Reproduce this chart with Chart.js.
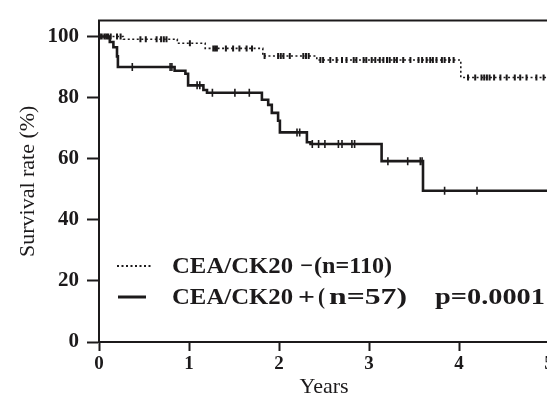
<!DOCTYPE html>
<html lang="en">
<head>
  <meta charset="UTF-8" />
  <title>CEA/CK20 survival</title>
  <script src="https://cdn.jsdelivr.net/npm/chart.js"></script>
  <style>
    html, body { margin: 0; padding: 0; background: #fff; overflow: hidden; }
    canvas { display: block; }
  </style>
</head>
<body>
  <canvas id="kmChart" width="565" height="397"></canvas>

  <script>
    // CEA/CK20 − (n=110): step times (years) and survival (%)
    const negTimes = [0, 0.27, 0.87, 1.18, 1.82, 2.42, 4.02, 5];
    const negSurv  = [100, 99.1, 97.8, 96.1, 93.6, 92.3, 86.6, 86.6];
    const negCensor = [0.01, 0.03, 0.06, 0.08, 0.10, 0.13, 0.20, 0.24, 0.46, 0.52, 0.64, 0.69, 0.72, 0.75,
      1.01, 1.27, 1.29, 1.31, 1.41, 1.49, 1.56, 1.64, 1.70, 1.84, 1.99, 2.02, 2.05, 2.12, 2.27, 2.30, 2.33,
      2.46, 2.49, 2.57, 2.64, 2.70, 2.75, 2.83, 2.86, 2.94, 2.97, 3.03, 3.07, 3.12, 3.16, 3.20, 3.23, 3.28,
      3.31, 3.38, 3.46, 3.55, 3.59, 3.64, 3.68, 3.71, 3.75, 3.81, 3.84, 3.89, 3.94,
      4.10, 4.18, 4.25, 4.28, 4.31, 4.34, 4.39, 4.46, 4.53, 4.62, 4.68, 4.75, 4.86, 4.94];

    // CEA/CK20 + (n=57)
    const posTimes = [0, 0.12, 0.16, 0.20, 0.21, 0.84, 0.96, 0.99, 1.16, 1.20, 1.81, 1.88, 1.92, 1.99, 2.01, 2.31, 2.35, 3.14, 3.60, 5];
    const posSurv  = [100, 98.2, 96.5, 93.5, 90.0, 88.8, 87.8, 84.0, 82.5, 81.6, 79.3, 77.6, 75.0, 72.4, 68.6, 65.4, 64.8, 59.2, 49.5, 49.5];
    const posCensor = [0.37, 0.79, 0.81, 1.09, 1.12, 1.26, 1.51, 1.67, 2.20, 2.23, 2.37, 2.44, 2.51, 2.66, 2.70,
      2.81, 2.84, 3.21, 3.43, 3.57, 3.59, 3.84, 4.20];

    const xTicks = [0, 1, 2, 3, 4, 5];
    const yTicks = [0, 20, 40, 60, 80, 100];
    const pText = 'p=0.0001';

    const ink = '#1c1a1b';
    const serif = '"Liberation Serif", "Times New Roman", serif';

    function survAt(times, surv, t) {
      let v = surv[0];
      for (let i = 0; i < times.length; i++) {
        if (times[i] <= t) v = surv[i];
      }
      return v;
    }

    const stepData = (times, surv) => times.map((t, i) => ({ x: t, y: surv[i] }));
    const censorData = (cs, times, surv) => cs.map(t => ({ x: t, y: survAt(times, surv, t) }));

    // text squeezed/stretched to span x0..x1
    function fitText(ctx, str, x0, x1, y) {
      const w = ctx.measureText(str).width;
      ctx.save();
      ctx.translate(x0, y);
      ctx.scale((x1 - x0) / w, 1);
      ctx.fillText(str, 0, 0);
      ctx.restore();
    }

    const framePlugin = {
      id: 'frameLegend',
      afterDraw(chart) {
        const { ctx, chartArea } = chart;
        ctx.save();
        // top border
        ctx.strokeStyle = ink;
        ctx.lineWidth = 2;
        ctx.beginPath();
        ctx.moveTo(chartArea.left - 1, chartArea.top);
        ctx.lineTo(chartArea.right, chartArea.top);
        ctx.stroke();

        // legend samples
        ctx.lineWidth = 2;
        ctx.setLineDash([2, 2.5]);
        ctx.beginPath();
        ctx.moveTo(117, 266);
        ctx.lineTo(151, 266);
        ctx.stroke();
        ctx.setLineDash([]);
        ctx.lineWidth = 3;
        ctx.beginPath();
        ctx.moveTo(118, 297);
        ctx.lineTo(146, 297);
        ctx.stroke();

        ctx.fillStyle = ink;
        ctx.textBaseline = 'middle';
        ctx.font = 'bold 23px ' + serif;
        fitText(ctx, 'CEA/CK20', 172, 293, 267);
        fitText(ctx, '−', 300, 313, 267);
        fitText(ctx, '(n=110)', 314, 392, 267);
        fitText(ctx, 'CEA/CK20', 172, 293, 298);
        fitText(ctx, '+', 298, 315, 298);
        fitText(ctx, '(', 318, 325, 298);
        fitText(ctx, 'n=57)', 329, 407, 298);
        fitText(ctx, pText, 435, 545, 298);
        ctx.restore();
      }
    };

    const ctx = document.getElementById('kmChart').getContext('2d');
    new Chart(ctx, {
      type: 'scatter',
      data: {
        datasets: [
          {
            label: 'CEA/CK20 −(n=110)',
            type: 'line',
            data: stepData(negTimes, negSurv),
            stepped: true,
            borderColor: ink,
            borderWidth: 1.6,
            borderDash: [2, 2.5],
            pointRadius: 0,
            fill: false
          },
          {
            label: 'CEA/CK20 +(n=57)',
            type: 'line',
            data: stepData(posTimes, posSurv),
            stepped: true,
            borderColor: ink,
            borderWidth: 2.6,
            pointRadius: 0,
            fill: false
          },
          {
            label: 'censored −',
            data: censorData(negCensor, negTimes, negSurv),
            showLine: false,
            pointStyle: 'line',
            rotation: 90,
            pointRadius: 3,
            borderColor: ink,
            borderWidth: 2
          },
          {
            label: 'censored +',
            data: censorData(posCensor, posTimes, posSurv),
            showLine: false,
            pointStyle: 'line',
            rotation: 90,
            pointRadius: 4,
            borderColor: ink,
            borderWidth: 1.6
          }
        ]
      },
      options: {
        responsive: false,
        animation: false,
        layout: { padding: { top: 17, right: 16, left: 0, bottom: 0 } },
        plugins: {
          legend: { display: false },
          tooltip: { enabled: false }
        },
        scales: {
          x: {
            type: 'linear',
            min: 0,
            max: 5,
            afterFit: s => { s.height = 55; },
            afterBuildTicks: s => { s.ticks = xTicks.map(v => ({ value: v })); },
            ticks: {
              color: ink,
              padding: 2,
              font: { family: serif, weight: 'bold', size: 19 }
            },
            grid: { drawOnChartArea: false, tickLength: 9, tickWidth: 2, tickColor: ink },
            border: { color: ink, width: 2 },
            title: {
              display: true,
              text: 'Years',
              color: ink,
              padding: { top: 0, bottom: -3 },
              font: { family: serif, size: 22 }
            }
          },
          y: {
            min: 0,
            max: 105.2,
            afterFit: s => { s.width = 99; },
            afterBuildTicks: s => { s.ticks = yTicks.map(v => ({ value: v })); },
            ticks: {
              color: ink,
              padding: 8,
              font: { family: serif, weight: 'bold', size: 21 }
            },
            grid: { drawOnChartArea: false, tickLength: 12, tickWidth: 2, tickColor: ink },
            border: { color: ink, width: 2 },
            title: {
              display: true,
              text: 'Survival rate (%)',
              color: ink,
              padding: { top: 15, bottom: 0 },
              font: { family: serif, size: 22 }
            }
          }
        }
      },
      plugins: [framePlugin]
    });
  </script>
</body>
</html>
